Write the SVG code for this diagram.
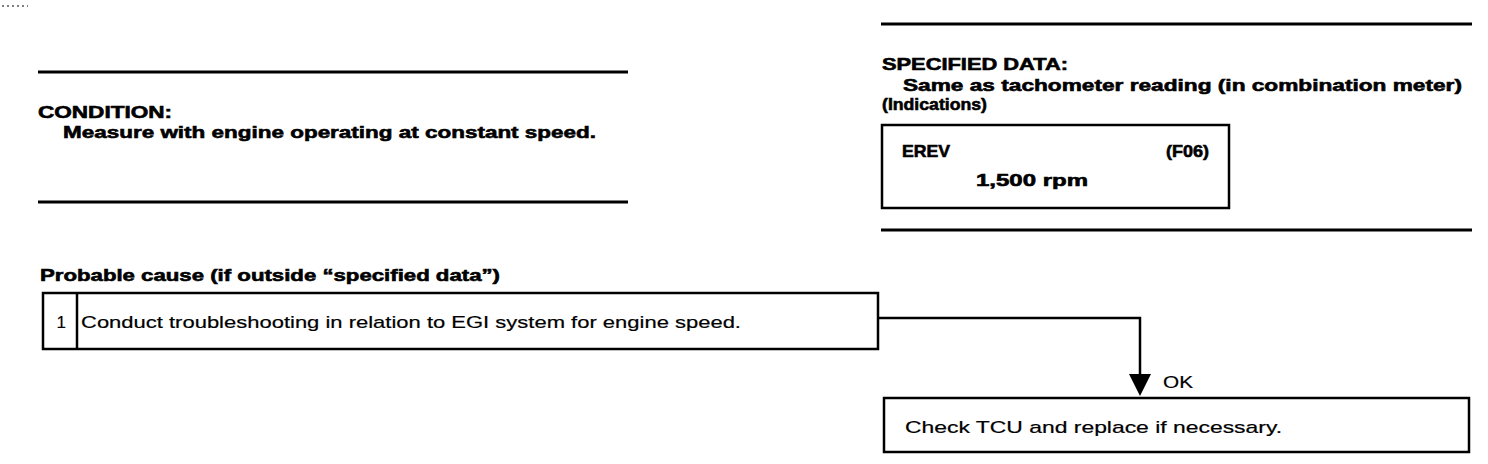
<svg xmlns="http://www.w3.org/2000/svg" width="1488" height="464" viewBox="0 0 1488 464">
  <defs>
    <style>
      .b { font-family: "Liberation Sans", Arial, sans-serif; font-weight: bold; font-size: 17px; fill: #000; stroke: #000; stroke-width: 0.6; }
      .r { font-family: "Liberation Sans", Arial, sans-serif; font-size: 17px; fill: #000; stroke: #000; stroke-width: 0.2; }
      .rule { stroke: #000; stroke-width: 3; fill: none; }
      .box { stroke: #000; stroke-width: 2.5; fill: #fff; }
      .wire { stroke: #000; stroke-width: 2.5; fill: none; }
    </style>
  </defs>
  <rect width="1488" height="464" fill="#fff"/>
  <line x1="2" y1="6" x2="28" y2="6" stroke="#000" stroke-width="1" stroke-dasharray="2 3"/>

  <g id="condition">
    <line class="rule" x1="38" y1="72" x2="628" y2="72"/>
    <text class="b" x="38" y="118" textLength="134" lengthAdjust="spacingAndGlyphs">CONDITION:</text>
    <text class="b" x="63" y="138" textLength="533" lengthAdjust="spacingAndGlyphs">Measure with engine operating at constant speed.</text>
    <line class="rule" x1="38" y1="202" x2="628" y2="202"/>
  </g>

  <g id="specified-data">
    <line class="rule" x1="881" y1="24" x2="1472" y2="24"/>
    <text class="b" x="882" y="70" textLength="186" lengthAdjust="spacingAndGlyphs">SPECIFIED DATA:</text>
    <text class="b" x="903" y="91" textLength="559" lengthAdjust="spacingAndGlyphs">Same as tachometer reading (in combination meter)</text>
    <text class="b" x="882" y="110" textLength="105" lengthAdjust="spacingAndGlyphs">(Indications)</text>
    <rect class="box" x="882" y="125" width="347" height="83"/>
    <text class="b" x="902" y="157" textLength="48" lengthAdjust="spacingAndGlyphs">EREV</text>
    <text class="b" x="1166" y="157" textLength="43" lengthAdjust="spacingAndGlyphs">(F06)</text>
    <text class="b" x="976" y="186" textLength="112" lengthAdjust="spacingAndGlyphs">1,500 rpm</text>
    <line class="rule" x1="881" y1="230" x2="1472" y2="230"/>
  </g>

  <g id="probable-cause">
    <text class="b" x="40" y="281" textLength="460" lengthAdjust="spacingAndGlyphs">Probable cause (if outside “specified data”)</text>
    <rect class="box" x="43" y="293" width="835" height="56"/>
    <line class="wire" x1="77" y1="293" x2="77" y2="349"/>
    <text class="r" x="66" y="328" text-anchor="end">1</text>
    <text class="r" x="81" y="328" textLength="660" lengthAdjust="spacingAndGlyphs">Conduct troubleshooting in relation to EGI system for engine speed.</text>
  </g>

  <g id="check-tcu">
    <rect class="box" x="884" y="398" width="585" height="54"/>
    <text class="r" x="905" y="433" textLength="377" lengthAdjust="spacingAndGlyphs">Check TCU and replace if necessary.</text>
  </g>

  <g id="connectors">
    <polyline class="wire" points="878,318 1140,318 1140,376"/>
    <polygon points="1129,374 1151,374 1140,396" fill="#000"/>
    <text class="r" x="1163" y="388" textLength="30" lengthAdjust="spacingAndGlyphs">OK</text>
  </g>
</svg>
